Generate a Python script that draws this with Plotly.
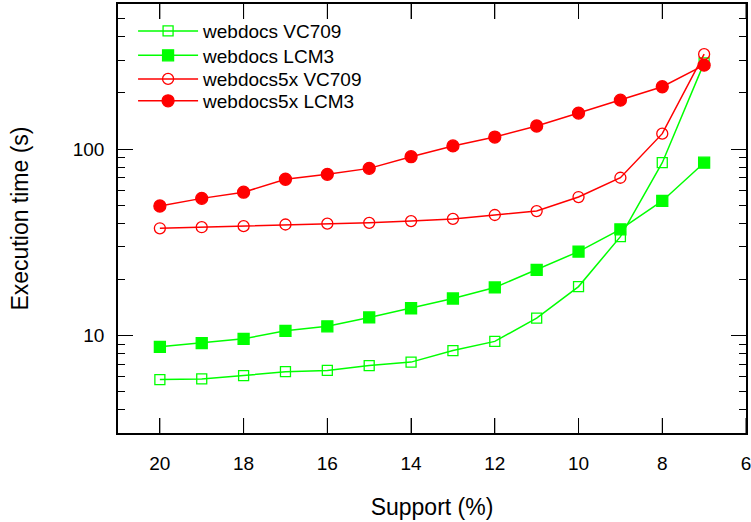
import plotly.graph_objects as go

support = [20, 19, 18, 17, 16, 15, 14, 13, 12, 11, 10, 9, 8, 7]
webdocs_vc709 = [5.8, 5.85, 6.1, 6.4, 6.5, 6.9, 7.2, 8.3, 9.3, 12.4, 18.3, 33.9, 84.5, 290]
webdocs_lcm3 = [8.7, 9.1, 9.6, 10.6, 11.2, 12.5, 14.0, 15.8, 18.1, 22.5, 28.2, 37.1, 52.7, 84.5]
webdocs5x_vc709 = [37.6, 38.1, 38.6, 39.4, 39.8, 40.2, 41.1, 42.2, 44.3, 46.5, 55.3, 70.2, 121, 323]
webdocs5x_lcm3 = [49.5, 54.4, 58.7, 68.9, 73.2, 78.8, 91, 104, 116, 133, 156, 183, 216, 282]
x_ticks = [20, 18, 16, 14, 12, 10, 8, 6]

GREEN = "#00ff00"
RED = "#ff0000"

series = [
    ("webdocs VC709", webdocs_vc709, GREEN, "square-open", 10),
    ("webdocs LCM3", webdocs_lcm3, GREEN, "square", 11),
    ("webdocs5x VC709", webdocs5x_vc709, RED, "circle-open", 11),
    ("webdocs5x LCM3", webdocs5x_lcm3, RED, "circle", 12),
]
legend_ids = ["legend", "legend2", "legend3", "legend4"]
legend_y = [0.937, 0.880, 0.825, 0.774]

fig = go.Figure()
for (name, vals, col, sym, sz), lid in zip(series, legend_ids):
    fig.add_trace(go.Scatter(
        x=support, y=vals, name=name, mode="lines+markers", legend=lid,
        line=dict(color=col, width=1.5),
        marker=dict(symbol=sym, size=sz, color=col, line=dict(color=col, width=1.3)),
    ))

# x-axis tick marks on the bottom and top frame edges (gnuplot-style mirrored ticks)
for xv in x_ticks:
    for anchor, y1 in ((0, 15), (1, -15)):
        fig.add_shape(type="line", xref="x", yref="paper", x0=xv, x1=xv,
                      ysizemode="pixel", yanchor=anchor, y0=0, y1=y1,
                      line=dict(color="black", width=1), layer="above")

font = dict(family="Liberation Sans, Arial, sans-serif", size=19, color="black")

legends = {}
for lid, ly in zip(legend_ids, legend_y):
    legends[lid] = dict(x=0.024, y=ly, xanchor="left", yanchor="middle",
                        bgcolor="rgba(0,0,0,0)", font=dict(size=19),
                        itemwidth=60)

fig.update_layout(
    width=751, height=522,
    margin=dict(l=118, r=5, t=4, b=89),
    paper_bgcolor="white", plot_bgcolor="white",
    font=font,
    showlegend=True,
    **legends,
    xaxis=dict(
        range=[21, 6], tickmode="array", tickvals=x_ticks,
        ticks="inside", ticklen=15, tickwidth=1, tickcolor="black",
        showline=True, linecolor="black", linewidth=1.5, mirror="ticks",
        showgrid=False, zeroline=False, ticklabelstandoff=12, automargin=False,
        ticklabeloverflow="allow",
        title=dict(text="Support (%)", standoff=26),
    ),
    yaxis=dict(
        type="log", range=[0.4771, 2.7782], dtick=1,
        ticks="inside", ticklen=15, tickwidth=1, tickcolor="black",
        showline=True, linecolor="black", linewidth=1.5, mirror="ticks",
        showgrid=False, zeroline=False, ticklabelstandoff=8, automargin=False,
        minor=dict(ticks="inside", ticklen=7, tickwidth=1, tickcolor="black",
                   dtick="D1", showgrid=False),
        title=dict(text="Execution time (s)", standoff=38),
    ),
)

fig.write_html("out.html", config={"displayModeBar": False},
               post_script="document.body.style.margin='0';document.body.style.padding='0';")
